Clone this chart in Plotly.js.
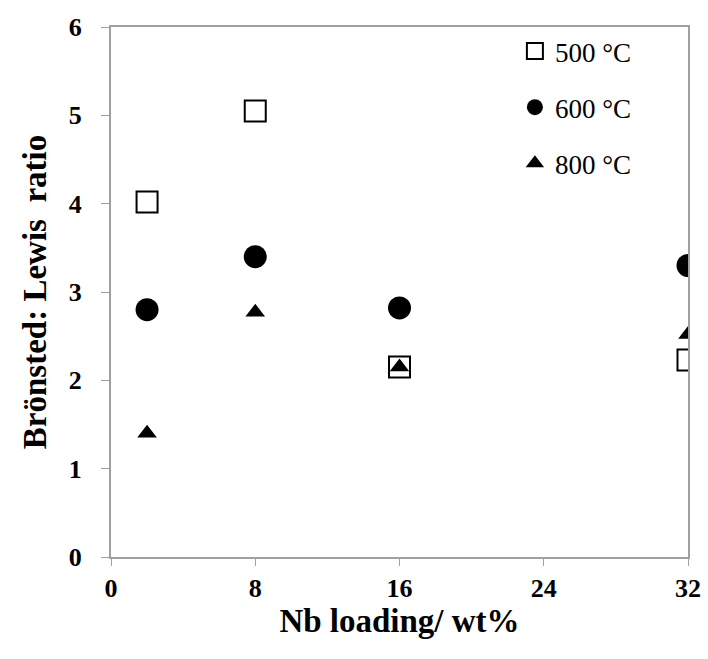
<!DOCTYPE html>
<html><head><meta charset="utf-8">
<script src="https://cdn.plot.ly/plotly-3.0.1.min.js"></script>
<style>body{margin:0;background:#fff}#c{width:708px;height:659px}</style>
</head><body><div id="c"></div>
<script>
const nbLoading = [2, 8, 16, 32];
const ratio500 = [4.02, 5.05, 2.15, 2.23];
const ratio600 = [2.80, 3.40, 2.82, 3.30];
const ratio800 = [1.40, 2.77, 2.15, 2.52];
const seriesNames = ['500 °C', '600 °C', '800 °C'];
const xTicks = [0, 8, 16, 24, 32];

const traces = [
  {x: nbLoading, y: ratio500, name: seriesNames[0], legendgroup: 'a', mode: 'markers', type: 'scatter',
   marker: {symbol: 'square-open', size: 21, color: '#000', line: {width: 2, color: '#000'}}},
  {x: nbLoading, y: ratio600, name: seriesNames[1], legendgroup: 'b', mode: 'markers', type: 'scatter',
   marker: {symbol: 'circle', size: 23, color: '#000'}},
  {x: nbLoading, y: ratio800, name: seriesNames[2], legendgroup: 'c', mode: 'markers', type: 'scatter',
   marker: {symbol: 'triangle-up', size: 17, color: '#000'}}
];
const layout = {
  width: 708, height: 659,
  margin: {l: 111, r: 20, t: 27, b: 102},
  paper_bgcolor: '#fff', plot_bgcolor: '#fff',
  font: {family: 'Liberation Serif, Times New Roman, serif', color: '#000'},
  xaxis: {range: [0, 32], tickvals: xTicks, showgrid: false, zeroline: false,
    showline: true, linecolor: '#a0a0a0', linewidth: 2, mirror: true,
    ticks: 'outside', ticklen: 7, tickcolor: '#a0a0a0', tickwidth: 1,
    ticklabelstandoff: 0,
    tickfont: {size: 26, family: 'Liberation Serif', weight: 'bold'},
    title: {text: 'Nb loading/ wt%', font: {size: 33, family: 'Liberation Serif', weight: 'bold'}, standoff: 0}},
  yaxis: {range: [0, 6], dtick: 1, showgrid: false, zeroline: false,
    showline: true, linecolor: '#a0a0a0', linewidth: 2, mirror: true,
    ticks: 'outside', ticklen: 8, tickcolor: '#a0a0a0', tickwidth: 1,
    ticklabelstandoff: 14,
    tickfont: {size: 26, family: 'Liberation Serif', weight: 'bold'},
    title: {text: 'Brönsted: Lewis  ratio', font: {size: 33, family: 'Liberation Serif', weight: 'bold'}, standoff: 12}},
  showlegend: true,
  legend: {x: 0.7, y: 1.0, xanchor: 'left', yanchor: 'top', bgcolor: 'rgba(0,0,0,0)',
    font: {size: 27, family: 'Liberation Serif'}, tracegroupgap: 18, itemwidth: 30}
};
Plotly.newPlot('c', traces, layout, {displayModeBar: false});
</script></body></html>
